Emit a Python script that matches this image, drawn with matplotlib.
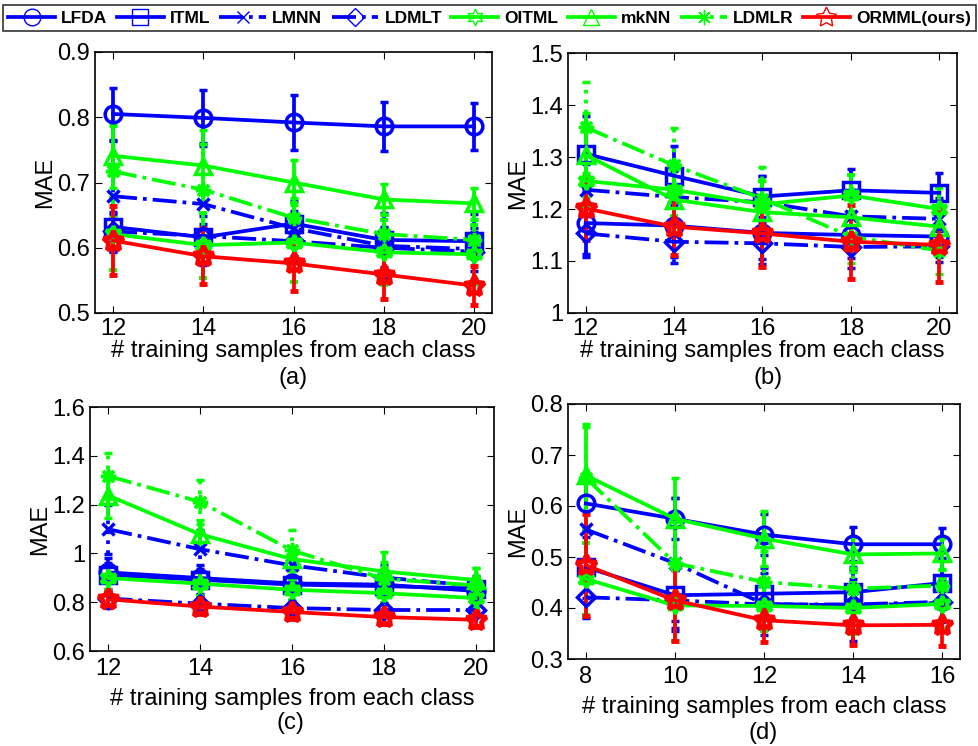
import matplotlib.pyplot as plt
import numpy as np

plt.rcParams['font.family'] = ['Liberation Sans', 'DejaVu Sans']

methods = ['LFDA', 'ITML', 'LMNN', 'LDMLT', 'OITML', 'mkNN', 'LDMLR', 'ORMML(ours)']
colors = ['#0000ff', '#0000ff', '#0000ff', '#0000ff', '#00ff00', '#00ff00', '#00ff00', '#ff0000']
styles = ['-', '-', '-.', '-.', '-', '-', '-.', '-']
markers = ['o', 's', 'x', 'D', (6, 1, 0), '^', (8, 2, 0), (5, 1, 0)]
msizes = [12, 11, 9, 9, 12, 12, 11, 15]
mews = [2.5, 2.5, 2.5, 2.5, 2.8, 2.5, 2.5, 3.5]

x_abc = [12, 14, 16, 18, 20]
x_d = [8, 10, 12, 14, 16]

# rows follow the order of methods
mae_a = [
    [0.805, 0.799, 0.792, 0.786, 0.786],
    [0.632, 0.616, 0.637, 0.612, 0.610],
    [0.679, 0.667, 0.630, 0.603, 0.598],
    [0.625, 0.618, 0.610, 0.600, 0.594],
    [0.621, 0.604, 0.608, 0.593, 0.590],
    [0.741, 0.726, 0.700, 0.674, 0.668],
    [0.717, 0.689, 0.646, 0.621, 0.612],
    [0.611, 0.587, 0.576, 0.559, 0.542],
]
err_a = [
    [0.040, 0.043, 0.042, 0.037, 0.036],
    [0.020, 0.020, 0.020, 0.020, 0.020],
    [0.085, 0.093, 0.042, 0.050, 0.054],
    [0.030, 0.030, 0.030, 0.030, 0.030],
    [0.055, 0.050, 0.060, 0.050, 0.045],
    [0.050, 0.055, 0.034, 0.024, 0.024],
    [0.070, 0.070, 0.030, 0.030, 0.030],
    [0.053, 0.043, 0.043, 0.038, 0.030],
]

mae_b = [
    [1.173, 1.168, 1.154, 1.150, 1.147],
    [1.306, 1.264, 1.224, 1.236, 1.231],
    [1.237, 1.223, 1.213, 1.186, 1.181],
    [1.153, 1.137, 1.134, 1.127, 1.128],
    [1.254, 1.237, 1.209, 1.226, 1.200],
    [1.304, 1.218, 1.194, 1.184, 1.166],
    [1.357, 1.284, 1.220, 1.147, 1.120],
    [1.201, 1.166, 1.153, 1.137, 1.131],
]
err_b = [
    [0.065, 0.060, 0.050, 0.045, 0.040],
    [0.073, 0.057, 0.040, 0.041, 0.039],
    [0.050, 0.050, 0.050, 0.040, 0.040],
    [0.040, 0.040, 0.040, 0.040, 0.030],
    [0.050, 0.050, 0.045, 0.040, 0.040],
    [0.080, 0.070, 0.060, 0.050, 0.040],
    [0.088, 0.071, 0.060, 0.050, 0.045],
    [0.060, 0.055, 0.065, 0.071, 0.071],
]

mae_c = [
    [0.922, 0.899, 0.877, 0.872, 0.846],
    [0.912, 0.892, 0.872, 0.866, 0.856],
    [1.099, 1.017, 0.951, 0.901, 0.867],
    [0.815, 0.794, 0.776, 0.768, 0.768],
    [0.899, 0.876, 0.851, 0.837, 0.817],
    [1.237, 1.078, 0.977, 0.926, 0.891],
    [1.317, 1.211, 1.012, 0.896, 0.869],
    [0.812, 0.782, 0.760, 0.739, 0.728],
]
err_c = [
    [0.040, 0.030, 0.030, 0.030, 0.030],
    [0.070, 0.060, 0.040, 0.040, 0.030],
    [0.100, 0.080, 0.060, 0.050, 0.040],
    [0.040, 0.030, 0.030, 0.030, 0.030],
    [0.050, 0.050, 0.040, 0.040, 0.040],
    [0.090, 0.060, 0.050, 0.080, 0.050],
    [0.096, 0.090, 0.083, 0.070, 0.070],
    [0.030, 0.030, 0.030, 0.030, 0.030],
]

mae_d = [
    [0.605, 0.575, 0.544, 0.525, 0.525],
    [0.480, 0.425, 0.428, 0.431, 0.449],
    [0.554, 0.488, 0.408, 0.405, 0.410],
    [0.421, 0.415, 0.407, 0.407, 0.412],
    [0.457, 0.405, 0.404, 0.400, 0.408],
    [0.660, 0.575, 0.536, 0.505, 0.507],
    [0.655, 0.488, 0.451, 0.438, 0.444],
    [0.484, 0.415, 0.376, 0.366, 0.367],
]
err_d = [
    [0.050, 0.040, 0.040, 0.033, 0.031],
    [0.060, 0.050, 0.050, 0.050, 0.050],
    [0.100, 0.127, 0.060, 0.070, 0.050],
    [0.040, 0.060, 0.050, 0.050, 0.040],
    [0.070, 0.070, 0.050, 0.050, 0.050],
    [0.100, 0.080, 0.054, 0.034, 0.030],
    [0.100, 0.080, 0.060, 0.040, 0.030],
    [0.100, 0.080, 0.043, 0.038, 0.042],
]

panels = [
    ('(a)', x_abc, mae_a, err_a, (0.5, 0.9), np.arange(0.5, 0.91, 0.1), ['0.5', '0.6', '0.7', '0.8', '0.9']),
    ('(b)', x_abc, mae_b, err_b, (1.0, 1.5), np.arange(1.0, 1.51, 0.1), ['1', '1.1', '1.2', '1.3', '1.4', '1.5']),
    ('(c)', x_abc, mae_c, err_c, (0.6, 1.6), np.arange(0.6, 1.61, 0.2), ['0.6', '0.8', '1', '1.2', '1.4', '1.6']),
    ('(d)', x_d, mae_d, err_d, (0.3, 0.8), np.arange(0.3, 0.81, 0.1), ['0.3', '0.4', '0.5', '0.6', '0.7', '0.8']),
]

W, H = 979, 746
boxes = [(95, 52, 492, 313), (568, 53, 957, 313), (90, 407, 494, 651), (568, 404, 960, 659)]
tags = [(293, 378), (768, 378), (290, 723), (763, 733)]
tick_pads = [3.5, 3.5, 5, 5]
label_pads = [0, 0, 6, 6]
FS = 17

fig = plt.figure(figsize=(W / 100, H / 100), dpi=100)

handles = []
for k, ((name, xs, mae, err, ylim, yt, ylab), (l, t, r, b), (tx, ty)) in enumerate(zip(panels, boxes, tags)):
    ax = fig.add_axes([l / W, 1 - b / H, (r - l) / W, (b - t) / H])
    handles = []
    for i in range(len(methods)):
        eb = ax.errorbar(xs, mae[i], yerr=err[i], color=colors[i], linestyle=styles[i],
                         linewidth=2.7, marker=markers[i], markersize=msizes[i],
                         markerfacecolor='none', markeredgewidth=mews[i], capsize=3,
                         elinewidth=2.7, capthick=2.7, label=methods[i])
        if styles[i] != '-':
            eb[2][0].set_linestyle(':')
        handles.append(eb)
    ax.set_xlim(xs[0] - 0.4, xs[-1] + 0.4)
    ax.set_xticks(xs)
    ax.set_ylim(*ylim)
    ax.set_yticks(yt)
    ax.set_yticklabels(ylab)
    ax.tick_params(direction='in', top=True, right=True, length=5, labelsize=FS)
    ax.tick_params(axis='x', pad=tick_pads[k])
    ax.tick_params(axis='y', pad=3.5)
    for s in ax.spines.values():
        s.set_linewidth(1.2)
    ax.set_xlabel('# training samples from each class', fontsize=FS, labelpad=label_pads[k])
    ax.set_ylabel('MAE', fontsize=FS, labelpad=1)
    fig.text(tx / W, 1 - ty / H, name, ha='center', va='center', fontsize=FS)

leg = fig.legend([h[0] for h in handles], methods, loc='lower left', ncol=8, mode='expand',
                 bbox_to_anchor=(3 / W, 1 - 31 / H, 973 / W, 28 / H), frameon=True,
                 fancybox=False, handlelength=2.7, handletextpad=0.35, columnspacing=0.5,
                 borderaxespad=0, borderpad=0.3, prop={'weight': 'bold', 'size': 12.5})
leg.get_frame().set_edgecolor('black')
leg.get_frame().set_linewidth(1.2)
for ln in leg.get_lines():
    ln.set_markeredgewidth(1)

fig.savefig('out.png', dpi=100)
